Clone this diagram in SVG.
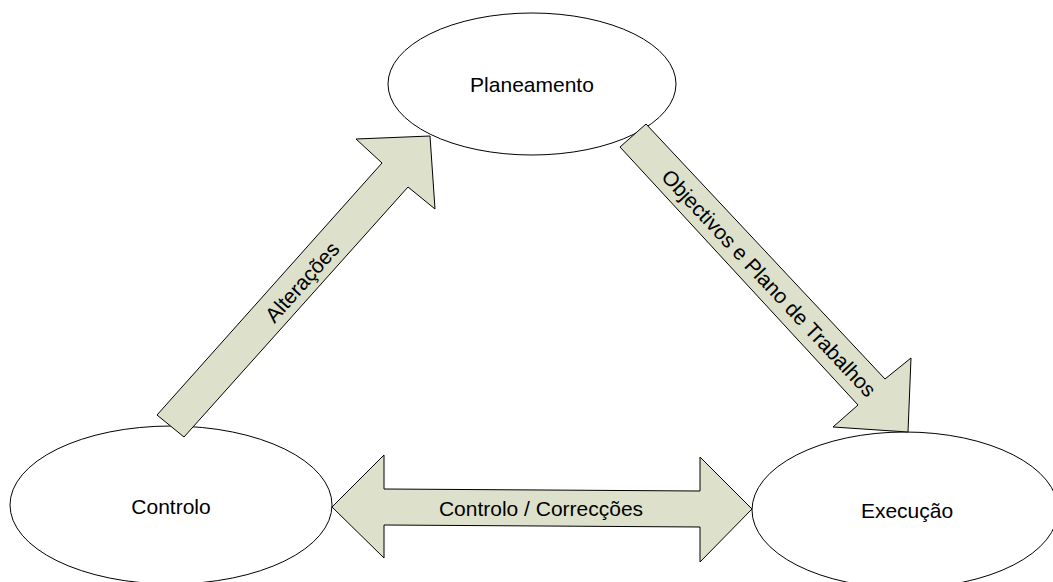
<svg xmlns="http://www.w3.org/2000/svg" width="1053" height="582" viewBox="0 0 1053 582">
<style>
.node{fill:#fff;stroke:#000;stroke-width:1}
.arrow{fill:#dde0cb;stroke:#000;stroke-width:1;stroke-linejoin:miter}
text{font-family:"Liberation Sans",Arial,sans-serif;font-size:21px;fill:#000;text-anchor:middle;dominant-baseline:central}
</style>
<rect width="1053" height="582" fill="#fff"/>
<g id="planeamento">
<ellipse class="node" cx="532" cy="84" rx="144" ry="71"/>
<text x="532" y="84">Planeamento</text>
</g>
<g id="controlo">
<ellipse class="node" cx="171" cy="505" rx="161" ry="79"/>
<text x="171" y="506">Controlo</text>
</g>
<g id="execucao">
<ellipse class="node" cx="905" cy="510" rx="153" ry="78"/>
<text x="907" y="510">Execução</text>
</g>
<g id="connectors">
<g id="alteracoes">
<polygon class="arrow" points="157,415 382,163 356,139 430,136 435,209 408,187 184,437"/>
<text transform="translate(302,282) rotate(-48.2)">Alterações</text>
</g>
<g id="objectivos">
<polygon class="arrow" points="646,124 885,379 911,358 908,432 833,427 858,405 620,147"/>
<text transform="translate(769,283) rotate(46.9)">Objectivos e Plano de Trabalhos</text>
</g>
<g id="controlo-correccoes">
<polygon class="arrow" points="332,507 384,455 384,489 700,491 700,457 752,509 700,562 700,527 384,525 384,558"/>
<text x="541" y="508">Controlo / Correcções</text>
</g>
</g>
</svg>
